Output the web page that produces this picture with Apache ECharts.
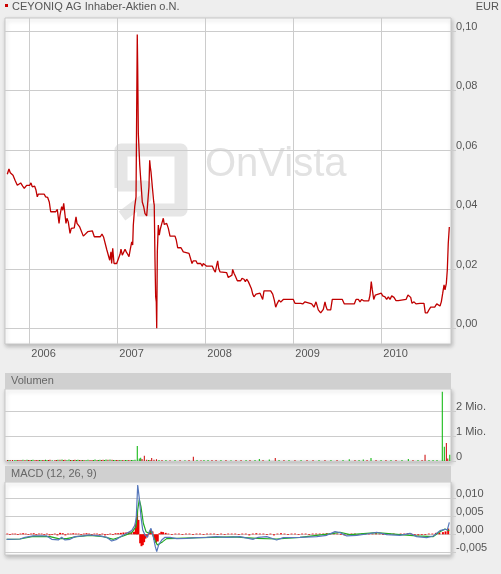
<!DOCTYPE html>
<html><head><meta charset="utf-8">
<script src="https://cdn.jsdelivr.net/npm/echarts@6/dist/echarts.min.js"></script>
<style>html,body{margin:0;padding:0;background:#eeeeee}#c{width:501px;height:574px}</style>
</head><body><div id="c"></div><script>
// ---- data (dates as decimal years) ----
const title = 'CEYONIQ AG Inhaber-Aktien o.N.';
const currency = 'EUR';
const yearTicks = [2006, 2007, 2008, 2009, 2010];
const priceTicks = [0, 0.02, 0.04, 0.06, 0.08, 0.1];
const volumeTicks = [0, 1000000, 2000000];
const macdTicks = [-0.005, 0, 0.005, 0.01];

const priceDates = [2005.750,2005.769,2005.784,2005.800,2005.815,2005.838,2005.864,2005.883,2005.902,2005.925,2005.943,2005.970,2006.005,2006.019,2006.034,2006.061,2006.076,2006.091,2006.102,2006.170,2006.186,2006.209,2006.227,2006.243,2006.300,2006.318,2006.338,2006.349,2006.368,2006.380,2006.391,2006.406,2006.417,2006.428,2006.443,2006.463,2006.477,2006.497,2006.511,2006.531,2006.542,2006.557,2006.573,2006.591,2006.614,2006.636,2006.664,2006.716,2006.739,2006.807,2006.826,2006.845,2006.864,2006.880,2006.898,2006.914,2006.928,2006.936,2006.948,2006.963,2006.993,2007.005,2007.031,2007.042,2007.057,2007.076,2007.088,2007.102,2007.118,2007.133,2007.148,2007.164,2007.175,2007.182,2007.198,2007.213,2007.220,2007.227,2007.232,2007.239,2007.255,2007.269,2007.284,2007.300,2007.315,2007.334,2007.352,2007.360,2007.368,2007.375,2007.383,2007.398,2007.414,2007.420,2007.428,2007.436,2007.443,2007.448,2007.455,2007.466,2007.477,2007.489,2007.500,2007.511,2007.523,2007.534,2007.550,2007.561,2007.580,2007.599,2007.656,2007.670,2007.686,2007.724,2007.750,2007.769,2007.815,2007.834,2007.849,2007.864,2007.894,2007.909,2007.948,2007.966,2007.977,2007.997,2008.016,2008.080,2008.099,2008.114,2008.130,2008.141,2008.152,2008.167,2008.243,2008.261,2008.281,2008.303,2008.311,2008.326,2008.341,2008.364,2008.386,2008.402,2008.417,2008.440,2008.455,2008.470,2008.489,2008.508,2008.523,2008.539,2008.553,2008.576,2008.622,2008.641,2008.652,2008.667,2008.743,2008.766,2008.784,2008.800,2008.818,2008.838,2008.857,2008.872,2008.886,2009.000,2009.019,2009.045,2009.061,2009.084,2009.107,2009.133,2009.152,2009.209,2009.235,2009.258,2009.284,2009.311,2009.341,2009.360,2009.372,2009.386,2009.425,2009.443,2009.557,2009.580,2009.693,2009.713,2009.739,2009.758,2009.777,2009.803,2009.857,2009.872,2009.886,2009.898,2009.914,2009.932,2009.948,2010.000,2010.016,2010.042,2010.061,2010.080,2010.099,2010.118,2010.144,2010.167,2010.193,2010.213,2010.281,2010.303,2010.318,2010.334,2010.349,2010.372,2010.394,2010.440,2010.485,2010.500,2010.523,2010.545,2010.561,2010.607,2010.630,2010.652,2010.667,2010.682,2010.698,2010.713,2010.724,2010.739,2010.750,2010.761,2010.773];
const priceValues = [0.0518,0.0536,0.0523,0.0529,0.0515,0.0498,0.0481,0.0481,0.0489,0.0478,0.0471,0.0481,0.0481,0.0489,0.0476,0.0478,0.0465,0.0442,0.0451,0.0451,0.0442,0.0440,0.0425,0.0392,0.0392,0.0400,0.0353,0.0381,0.0409,0.0397,0.0420,0.0381,0.0353,0.0370,0.0358,0.0319,0.0336,0.0330,0.0338,0.0375,0.0353,0.0358,0.0341,0.0336,0.0310,0.0310,0.0325,0.0328,0.0308,0.0308,0.0317,0.0306,0.0308,0.0265,0.0263,0.0229,0.0257,0.0218,0.0269,0.0218,0.0218,0.0224,0.0249,0.0266,0.0246,0.0241,0.0266,0.0257,0.0249,0.0241,0.0266,0.0291,0.0280,0.0347,0.0409,0.0442,0.0722,0.0988,0.0874,0.0655,0.0549,0.0549,0.0425,0.0409,0.0386,0.0378,0.0378,0.0476,0.0565,0.0543,0.0526,0.0476,0.0425,0.0414,0.0235,0.0106,0.0089,0.0000,0.0257,0.0347,0.0313,0.0334,0.0338,0.0358,0.0370,0.0349,0.0347,0.0353,0.0336,0.0310,0.0310,0.0297,0.0271,0.0271,0.0257,0.0252,0.0252,0.0257,0.0218,0.0227,0.0227,0.0218,0.0218,0.0209,0.0218,0.0216,0.0209,0.0209,0.0196,0.0189,0.0213,0.0227,0.0202,0.0190,0.0187,0.0171,0.0168,0.0179,0.0198,0.0185,0.0176,0.0160,0.0165,0.0160,0.0168,0.0165,0.0157,0.0165,0.0157,0.0151,0.0134,0.0115,0.0106,0.0115,0.0118,0.0112,0.0097,0.0126,0.0126,0.0115,0.0095,0.0071,0.0084,0.0095,0.0088,0.0082,0.0097,0.0097,0.0084,0.0084,0.0089,0.0084,0.0082,0.0089,0.0084,0.0082,0.0071,0.0089,0.0062,0.0052,0.0064,0.0089,0.0073,0.0062,0.0062,0.0097,0.0097,0.0082,0.0082,0.0097,0.0097,0.0089,0.0097,0.0092,0.0092,0.0112,0.0157,0.0129,0.0097,0.0112,0.0118,0.0118,0.0109,0.0106,0.0097,0.0106,0.0097,0.0109,0.0104,0.0093,0.0093,0.0097,0.0097,0.0112,0.0118,0.0104,0.0084,0.0089,0.0082,0.0084,0.0084,0.0052,0.0052,0.0064,0.0071,0.0071,0.0082,0.0082,0.0075,0.0089,0.0118,0.0146,0.0129,0.0151,0.0196,0.0286,0.0341];

const volumeDates = [2005.752,2005.769,2005.785,2005.809,2005.830,2005.849,2005.866,2005.883,2005.906,2005.928,
  2005.951,2005.974,2005.990,2006.008,2006.025,2006.042,2006.065,2006.082,2006.099,2006.116,
  2006.133,2006.150,2006.167,2006.184,2006.201,2006.218,2006.235,2006.260,2006.292,2006.310,
  2006.326,2006.349,2006.372,2006.389,2006.406,2006.428,2006.451,2006.468,2006.485,2006.502,
  2006.519,2006.536,2006.553,2006.570,2006.588,2006.605,2006.622,2006.645,2006.667,2006.690,
  2006.713,2006.730,2006.747,2006.770,2006.786,2006.803,2006.820,2006.838,2006.855,2006.872,
  2006.894,2006.917,2006.940,2006.957,2006.974,2006.990,2007.008,2007.025,2007.042,2007.059,
  2007.076,2007.093,2007.110,2007.127,2007.144,2007.161,2007.178,2007.201,2007.227,2007.250,
  2007.266,2007.281,2007.307,2007.334,2007.355,2007.372,2007.391,2007.417,2007.445,2007.474,
  2007.508,2007.553,2007.599,2007.656,2007.713,2007.769,2007.815,2007.864,2007.906,2007.951,
  2007.985,2008.031,2008.076,2008.122,2008.178,2008.235,2008.292,2008.349,2008.406,2008.463,
  2008.508,2008.565,2008.614,2008.656,2008.727,2008.795,2008.838,2008.894,2008.951,2009.019,
  2009.088,2009.156,2009.224,2009.292,2009.360,2009.428,2009.497,2009.565,2009.636,2009.701,
  2009.747,2009.795,2009.838,2009.883,2009.940,2009.997,2010.053,2010.110,2010.167,2010.235,
  2010.307,2010.360,2010.417,2010.463,2010.497,2010.542,2010.588,2010.633,2010.693,2010.716,
  2010.739,2010.755,2010.778];
const volumeValues = [45000,40000,35000,45000,30000,40000,35000,45000,40000,50000,
  45000,55000,40000,45000,40000,55000,40000,35000,45000,40000,
  45000,35000,40000,50000,45000,40000,50000,35000,45000,40000,
  55000,50000,60000,40000,55000,45000,60000,45000,45000,40000,
  55000,45000,50000,40000,45000,40000,45000,40000,55000,45000,
  45000,40000,60000,45000,40000,50000,45000,55000,45000,60000,
  55000,65000,50000,45000,45000,40000,40000,35000,45000,35000,
  35000,40000,40000,35000,35000,40000,45000,55000,600000,100000,
  130000,80000,210000,55000,45000,40000,120000,55000,70000,45000,
  40000,45000,35000,40000,45000,35000,40000,170000,40000,35000,
  45000,40000,45000,40000,45000,40000,35000,45000,40000,45000,
  40000,45000,80000,40000,60000,120000,45000,40000,45000,40000,
  45000,40000,45000,40000,45000,40000,45000,40000,70000,40000,
  45000,60000,40000,120000,45000,40000,45000,40000,45000,40000,
  80000,40000,45000,40000,250000,45000,40000,45000,2770000,570000,
  720000,100000,250000];
const volumeUp = [0,1,0,0,1,1,0,0,0,1,
  0,1,0,0,1,1,0,0,0,1,
  1,0,0,1,1,0,0,1,0,0,
  1,0,1,0,0,1,1,0,1,0,
  0,1,1,0,0,1,0,1,1,0,
  0,1,1,0,1,1,0,0,1,1,
  0,1,0,1,1,0,0,1,1,0,
  0,1,1,0,0,1,1,1,1,1,
  1,0,0,0,1,0,0,0,0,1,
  0,1,0,1,0,1,0,0,1,0,
  1,1,0,0,1,0,1,0,0,1,
  0,1,1,0,1,0,1,0,1,0,
  1,0,0,1,0,1,0,1,1,0,
  1,1,0,1,0,1,0,1,0,1,
  1,0,1,0,0,1,1,1,1,1,
  0,0,1];

const macdDates = [2005.743,2005.894,2005.951,2006.045,2006.198,2006.255,2006.330,2006.368,2006.406,2006.463,2006.519,2006.614,2006.670,2006.803,2006.880,2006.936,2006.993,2007.050,2007.107,2007.164,2007.201,2007.216,2007.232,2007.250,2007.269,2007.289,2007.315,2007.341,2007.364,2007.383,2007.409,2007.432,2007.448,2007.470,2007.505,2007.542,2007.599,2007.675,2007.789,2007.902,2008.016,2008.130,2008.243,2008.394,2008.545,2008.602,2008.698,2008.811,2008.886,2009.076,2009.266,2009.380,2009.474,2009.531,2009.607,2009.720,2009.834,2009.948,2010.061,2010.213,2010.326,2010.402,2010.516,2010.591,2010.667,2010.724,2010.750,2010.773];
const macdValues = [-0.00139,-0.00130,-0.00083,-0.00046,-0.00046,-0.00139,-0.00157,-0.00083,-0.00157,-0.00139,-0.00065,-0.00046,-0.00019,-0.00046,-0.00083,-0.00185,-0.00139,-0.00046,0.00028,0.00102,0.00259,0.00491,0.01370,0.01000,0.00491,0.00120,-0.00019,-0.00083,0.00074,0.00167,-0.00065,-0.00343,-0.00482,-0.00296,-0.00157,-0.00083,-0.00083,-0.00120,-0.00111,-0.00093,-0.00083,-0.00065,-0.00083,-0.00065,-0.00139,-0.00083,-0.00065,-0.00157,-0.00093,-0.00083,-0.00065,-0.00028,0.00074,0.00046,-0.00046,-0.00028,0.00009,0.00056,-0.00009,-0.00028,0.00028,-0.00065,-0.00093,-0.00046,0.00102,0.00139,0.00120,0.00333];

const signalDates = [2005.743,2005.894,2006.045,2006.235,2006.330,2006.425,2006.538,2006.690,2006.841,2006.955,2007.068,2007.164,2007.213,2007.232,2007.250,2007.269,2007.296,2007.326,2007.357,2007.391,2007.417,2007.455,2007.477,2007.516,2007.561,2007.675,2007.940,2008.318,2008.584,2008.811,2009.076,2009.455,2009.531,2009.645,2009.948,2010.213,2010.402,2010.591,2010.667,2010.724,2010.773];
const signalValues = [-0.00139,-0.00130,-0.00056,-0.00065,-0.00120,-0.00120,-0.00065,-0.00028,-0.00065,-0.00139,-0.00046,0.00046,0.00213,0.00676,0.00972,0.00769,0.00306,0.00074,0.00028,0.00074,-0.00111,-0.00296,-0.00324,-0.00204,-0.00120,-0.00111,-0.00093,-0.00074,-0.00111,-0.00130,-0.00083,0.00028,0.00056,-0.00009,0.00046,-0.00009,-0.00046,-0.00065,0.00074,0.00148,0.00102];

const histDates = [2005.75,2005.78,2005.81,2005.84,2005.87,2005.90,2005.93,2005.96,2005.99,2006.02,2006.05,2006.08,2006.11,2006.14,2006.17,2006.20,2006.23,2006.26,2006.29,2006.32,2006.35,2006.38,2006.41,2006.44,2006.47,2006.50,2006.53,2006.56,2006.59,2006.62,2006.65,2006.68,2006.71,2006.74,2006.77,2006.80,2006.83,2006.86,2006.89,2006.92,2006.95,2006.98,2007.01,2007.04,2007.07,2007.10,2007.13,2007.16,2007.19,2007.21,2007.225,2007.24,2007.26,2007.275,2007.29,2007.305,2007.32,2007.34,2007.36,2007.38,2007.40,2007.42,2007.44,2007.46,2007.48,2007.50,2007.52,2007.55,2007.58,2007.62,2007.66,2007.70,2007.74,2007.78,2007.82,2007.86,2007.90,2007.94,2007.98,2008.02,2008.06,2008.10,2008.14,2008.18,2008.22,2008.26,2008.30,2008.34,2008.38,2008.42,2008.46,2008.50,2008.54,2008.58,2008.62,2008.66,2008.70,2008.74,2008.78,2008.82,2008.86,2008.90,2008.94,2008.98,2009.02,2009.06,2009.10,2009.14,2009.18,2009.22,2009.26,2009.30,2009.34,2009.38,2009.42,2009.46,2009.50,2009.54,2009.58,2009.62,2009.66,2009.70,2009.74,2009.78,2009.82,2009.86,2009.90,2009.94,2009.98,2010.02,2010.06,2010.10,2010.14,2010.18,2010.22,2010.26,2010.30,2010.34,2010.38,2010.42,2010.46,2010.50,2010.54,2010.58,2010.62,2010.66,2010.70,2010.73,2010.76];
const histValues = [0.0002,-0.0002,0.0002,0.0002,-0.0002,0.0002,0.0003,0.0002,-0.0002,0.0002,0.0003,-0.0002,0.0002,0.0002,-0.0002,0.0002,-0.0003,-0.0002,0.0002,-0.0003,0.0004,0.0003,-0.0003,0.0002,0.0002,0.0003,0.0002,0.0002,-0.0002,0.0002,0.0003,0.0002,-0.0002,0.0002,0.0002,-0.0002,0.0002,-0.0003,-0.0002,0.0002,-0.0002,0.0003,0.0003,0.0004,0.0005,0.0005,0.0006,0.0005,0.0007,0.0030,0.0063,0.0040,-0.0025,-0.0033,-0.0030,-0.0022,-0.0012,-0.0008,0.0005,0.0012,0.0008,-0.0015,-0.0023,-0.0020,0.0003,0.0007,0.0006,0.0004,0.0002,-0.0002,0.0002,0.0002,-0.0002,0.0002,0.0002,-0.0002,0.0002,0.0002,-0.0002,0.0002,0.0002,0.0002,-0.0002,0.0002,-0.0002,0.0002,0.0002,0.0002,-0.0002,0.0002,0.0002,-0.0003,0.0002,0.0003,0.0002,0.0002,-0.0002,0.0002,-0.0003,0.0002,0.0003,0.0002,-0.0002,0.0002,0.0002,-0.0002,0.0002,0.0002,-0.0002,0.0002,0.0002,0.0002,0.0002,0.0003,0.0003,0.0004,0.0002,-0.0002,-0.0003,-0.0002,0.0002,0.0002,-0.0002,0.0002,0.0002,0.0003,0.0002,0.0003,0.0002,-0.0002,-0.0002,0.0002,0.0002,-0.0002,0.0002,0.0002,0.0003,0.0002,-0.0002,-0.0003,-0.0002,-0.0002,0.0002,0.0002,0.0004,0.0005,0.0006,0.0008,0.0016];

// ---- chart ----
const chart = echarts.init(document.getElementById('c'), null, {renderer: 'canvas'});
const FONT = 'Liberation Sans, Arial, sans-serif';
const GRID_LINE = '#cccccc';
const TXT = '#555';
const xMin = 2005.724, xMax = 2010.792;
const zip = (a, b) => a.map((d, i) => [d, b[i]]);
const gridCommon = {left: 5, right: 50, show: true, backgroundColor: '#fff', borderColor: '#c8c8c8', borderWidth: 1,
  shadowColor: 'rgba(0,0,0,0.22)', shadowBlur: 4, shadowOffsetX: 1, shadowOffsetY: 2, z: 0};
const hiddenX = (gi) => ({type: 'value', gridIndex: gi, min: xMin, max: xMax, show: false, splitLine: {show: false}, z: 2});
const yAxisBase = (gi, min, max, ticks, fmt) => ({
  type: 'value', gridIndex: gi, position: 'right', min: min, max: max, z: 2,
  axisLine: {show: false},
  axisTick: {show: true, length: 5, lineStyle: {color: GRID_LINE}, customValues: ticks},
  axisLabel: {customValues: ticks, formatter: fmt, color: TXT, fontSize: 11, fontFamily: FONT, margin: 5,
              verticalAlign: 'bottom', lineHeight: 8},
  splitLine: {show: true, lineStyle: {color: GRID_LINE, width: 1}}
});

const option = {
  animation: false,
  backgroundColor: '#eeeeee',
  textStyle: {fontFamily: FONT},
  grid: [
    Object.assign({top: 18, height: 326}, gridCommon),
    Object.assign({top: 389, height: 72}, gridCommon),
    Object.assign({top: 482, height: 73}, gridCommon)
  ],
  xAxis: [
    {type: 'value', gridIndex: 0, min: xMin, max: xMax, z: 2,
     axisLine: {show: false},
     axisTick: {show: true, length: 6, lineStyle: {color: GRID_LINE}, customValues: yearTicks},
     axisLabel: {customValues: yearTicks, formatter: v => String(Math.round(v)), color: TXT, fontSize: 11, fontFamily: FONT, align: 'left', margin: 4, padding: [0, 0, 0, 2]},
     splitLine: {show: true, lineStyle: {color: GRID_LINE, width: 1}}},
    hiddenX(1), hiddenX(2)
  ],
  yAxis: [
    yAxisBase(0, -0.00528, 0.10437, priceTicks, v => v.toFixed(2).replace('.', ',')),
    yAxisBase(1, 0, 2880000, volumeTicks, v => v === 0 ? '0' : Math.round(v / 1e6) + ' Mio.'),
    yAxisBase(2, -0.00575, 0.01453, macdTicks, v => (Math.abs(v) < 1e-9 ? 0 : v).toFixed(3).replace('.', ','))
  ],
  graphic: [
    // title row
    {type: 'rect', shape: {x: 5, y: 4, width: 3, height: 3}, style: {fill: '#cc0000'}},
    {type: 'text', x: 12, y: 7, style: {text: title, fill: TXT, font: '11px ' + FONT, textVerticalAlign: 'middle', verticalAlign: 'middle'}},
    {type: 'text', x: 499, y: 7, style: {text: currency, fill: TXT, font: '11px ' + FONT, align: 'right', textAlign: 'right', verticalAlign: 'middle', textVerticalAlign: 'middle'}},
    // watermark
    {type: 'polyline', z: 1, shape: {points: [[121, 188], [121, 150], [181, 150], [181, 210], [137, 210]]},
     style: {stroke: '#e6e6e6', lineWidth: 13, fill: null, lineJoin: 'round'}},
    {type: 'polyline', z: 1, shape: {points: [[118, 186], [146, 186], [146, 198], [122, 216]]},
     style: {stroke: '#e6e6e6', lineWidth: 11, fill: null, lineJoin: 'round'}},
    {type: 'text', z: 1, x: 205, y: 165, style: {text: 'OnVista', fill: '#e2e2e2', font: '40px ' + FONT, verticalAlign: 'middle', textVerticalAlign: 'middle'}},
    // sub-panel headers
    {type: 'rect', z: 5, shape: {x: 5, y: 373, width: 446, height: 16}, style: {fill: '#d0d0d0'}},
    {type: 'text', z: 6, x: 11, y: 381, style: {text: 'Volumen', fill: '#666', font: '11px ' + FONT, verticalAlign: 'middle', textVerticalAlign: 'middle'}},
    {type: 'rect', z: 5, shape: {x: 5, y: 466, width: 446, height: 16}, style: {fill: '#d0d0d0'}},
    {type: 'text', z: 6, x: 11, y: 474, style: {text: 'MACD (12, 26, 9)', fill: '#666', font: '11px ' + FONT, verticalAlign: 'middle', textVerticalAlign: 'middle'}}
  ],
  series: [
    {type: 'line', xAxisIndex: 0, yAxisIndex: 0, data: zip(priceDates, priceValues), showSymbol: false, z: 3,
     lineStyle: {color: '#c00000', width: 1.3}, silent: true},
    {type: 'bar', xAxisIndex: 1, yAxisIndex: 1, barWidth: 1, z: 3, silent: true,
     data: volumeDates.map((d, i) => ({value: [d, volumeValues[i]], itemStyle: {color: volumeUp[i] ? '#00b400' : '#cc0000'}}))},
    {type: 'bar', xAxisIndex: 2, yAxisIndex: 2, barWidth: 2, z: 3, silent: true,
     data: zip(histDates, histValues), itemStyle: {color: '#ee0000'}},
    {type: 'line', xAxisIndex: 2, yAxisIndex: 2, data: zip(signalDates, signalValues), showSymbol: false, z: 4,
     lineStyle: {color: '#22aa22', width: 1.2}, silent: true},
    {type: 'line', xAxisIndex: 2, yAxisIndex: 2, data: zip(macdDates, macdValues), showSymbol: false, z: 4,
     lineStyle: {color: '#5577bb', width: 1.2}, silent: true}
  ]
};
chart.setOption(option);
</script></body></html>
